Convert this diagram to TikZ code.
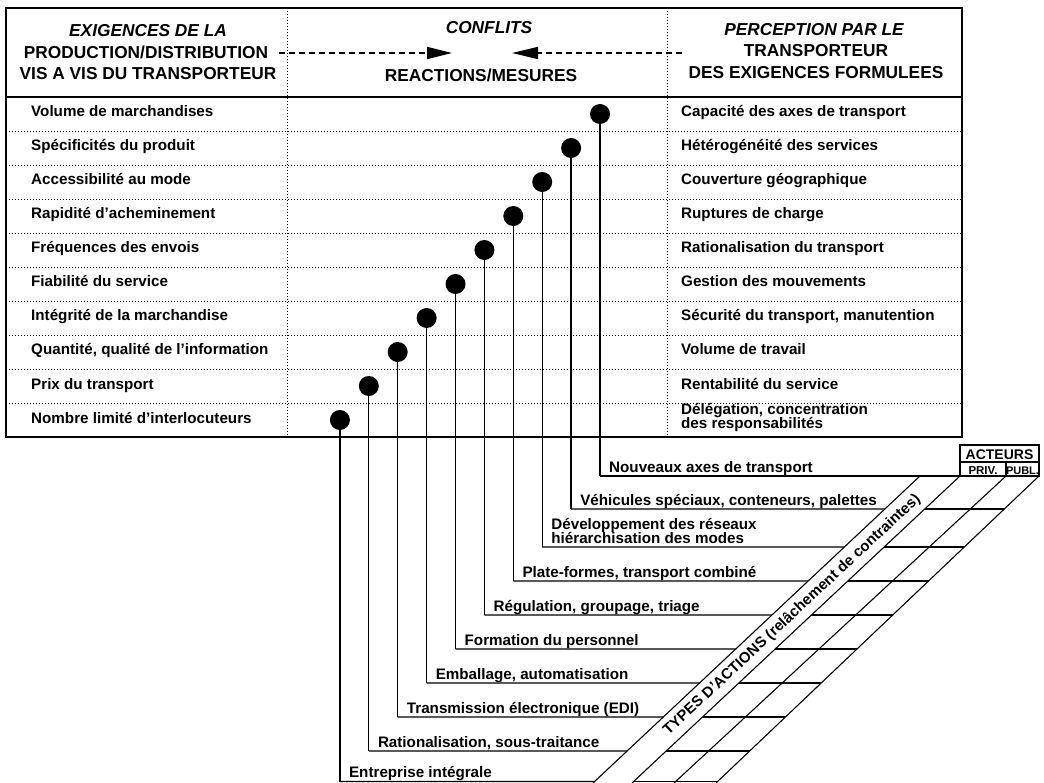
\documentclass[tikz,border=0pt]{standalone}
\usepackage{fontspec}
\setmainfont{Liberation Sans}
\usetikzlibrary{arrows.meta,calc}
\begin{document}
\begin{tikzpicture}[x=1pt,y=-1pt,
  cell/.style={anchor=base west,inner sep=0pt,font=\bfseries\fontsize{15.2}{15}\selectfont},
  hdrit/.style={anchor=base,inner sep=0pt,font=\bfseries\itshape\fontsize{17.3}{20}\selectfont},
  hdr/.style={anchor=base,inner sep=0pt,font=\bfseries\fontsize{17.3}{20}\selectfont},
  frame/.style={line width=2.4pt},
  sepline/.style={line width=0.9pt,dash pattern=on 0.9pt off 2.1pt},
  flow/.style={line width=1.6pt,dash pattern=on 6pt off 4pt},
  dot/.style={circle,fill=black,inner sep=0pt,minimum size=20pt},
  stem/.style={line width=1.3pt},
  rule/.style={line width=1.4pt},
  diag/.style={line width=1.1pt},
  band/.style={inner sep=0pt,rotate=43,font=\bfseries\fontsize{15}{15}\selectfont},
]
\useasboundingbox (0,0) rectangle (1044,783);

% ---------- table frame ----------
\draw[frame] (6,8) rectangle (962,437);
\draw[line width=2pt] (6,97) -- (962,97);
\foreach \x in {287,667} \draw[sepline] (\x,8) -- (\x,437);
\foreach \k in {1,...,9} \draw[sepline] (6,{97+34*\k}) -- (962,{97+34*\k});

% ---------- header ----------
\node[hdrit] (h1a) at (148,37) {EXIGENCES DE LA};
\node[hdr]   (h1b) at (146,59) {PRODUCTION/DISTRIBUTION};
\node[hdr]   (h1c) at (148,80) {VIS A VIS DU TRANSPORTEUR};
\node[hdrit] (h2a) at (489,34) {CONFLITS};
\node[hdr]   (h2b) at (481,82) {REACTIONS/MESURES};
\node[hdrit] (h3a) at (814,36) {PERCEPTION PAR LE};
\node[hdr]   (h3b) at (816,57) {TRANSPORTEUR};
\node[hdr]   (h3c) at (816,79) {DES EXIGENCES FORMULEES};

\coordinate (fa) at (279,53);
\coordinate (fb) at (452,53);
\coordinate (ga) at (682,53);
\coordinate (gb) at (512,53);
\draw[flow,-{Triangle[length=25pt,width=12pt]}] (fa) -- (fb);
\draw[flow,-{Triangle[length=26pt,width=12pt]}] (ga) -- (gb);

% ---------- table rows ----------
\foreach \k/\t in {1/{Volume de marchandises},2/{Spécificités du produit},
  3/{Accessibilité au mode},4/{Rapidité d'acheminement},5/{Fréquences des envois},
  6/{Fiabilité du service},7/{Intégrité de la marchandise},
  8/{Quantité, qualité de l'information},9/{Prix du transport},
  10/{Nombre limité d'interlocuteurs}}
  \node[cell] (e\k) at (31,{117+34*(\k-1)}) {\t};

\foreach \k/\t in {1/{Capacité des axes de transport},2/{Hétérogénéité des services},
  3/{Couverture géographique},4/{Ruptures de charge},5/{Rationalisation du transport},
  6/{Gestion des mouvements},7/{Sécurité du transport, manutention},
  8/{Volume de travail},9/{Rentabilité du service}}
  \node[cell] (p\k) at (681,{117+34*(\k-1)}) {\t};
\node[cell] (p10) at (681,414.5) {Délégation, concentration};
\node[cell] (p10b) at (681,428.5) {des responsabilités};

% ---------- actions band ----------
\coordinate (L1t) at (920,476);  \coordinate (L1b) at (593,783);
\coordinate (L2t) at (960,476);  \coordinate (L2b) at (632,783);
\coordinate (L3t) at (1006,476); \coordinate (L3b) at (674,783);
\coordinate (L4t) at (1039,476); \coordinate (L4b) at (716,783);
\foreach \i in {1,...,4} \draw[diag] (L\i t) -- (L\i b);

\node[band] (types) at (792,615) {TYPES D'ACTIONS (relâchement de contraintes)};

% actors box
\draw[rule] (960,445) rectangle (1039,476);
\draw[line width=1.1pt] (960,462) -- (1039,462);
\draw[line width=1.1pt] (1006,462) -- (1006,476);
\node[anchor=base,inner sep=0pt,font=\bfseries\fontsize{14}{14}\selectfont] (act) at (999.5,459.5) {ACTEURS};
\node[anchor=base,inner sep=0pt,font=\bfseries\fontsize{11.5}{12}\selectfont] (priv) at (983,474) {PRIV.};
\node[anchor=base,inner sep=0pt,font=\bfseries\fontsize{11}{12}\selectfont] (publ) at (1022.5,474) {PUBL.};

% ---------- stems from the dots to the actions ----------
\foreach \k/\ry in {1/476,2/509,3/547,4/581,5/615,6/649,7/683,8/717,9/751,10/781.5} {
  \node[dot] (d\k) at ({600-28.9*(\k-1)},{114+34*(\k-1)}) {};
  \coordinate (r\k) at ({600-28.9*(\k-1)},\ry);
  \draw[stem] (d\k.center) -- (r\k);
}
\draw[rule] (r1) -- (L2t);
\foreach \k/\ry in {2/509,3/547,4/581,5/615,6/649,7/683,8/717,9/751,10/781.5} {
  \draw[rule] (r\k) -- ($(L1t)!{(\ry-476)/307}!(L1b)$);
  \draw[rule] ($(L2t)!{(\ry-476)/307}!(L2b)$) -- ($(L4t)!{(\ry-476)/307}!(L4b)$);
}

% ---------- action labels ----------
\foreach \k/\ry/\t in {1/476/{Nouveaux axes de transport},
  2/509/{Véhicules spéciaux, conteneurs, palettes},
  4/581/{Plate-formes, transport combiné},5/615/{Régulation, groupage, triage},
  6/649/{Formation du personnel},7/683/{Emballage, automatisation},
  8/717/{Transmission électronique (EDI)},9/751/{Rationalisation, sous-traitance},
  10/781.5/{Entreprise intégrale}}
  \node[cell] (a\k) at ({609-28.9*(\k-1)},{\ry-4}) {\t};
\node[cell] (a3) at (551.2,529.5) {Développement des réseaux};
\node[cell] (a3b) at (551.2,543.5) {hiérarchisation des modes};
\end{tikzpicture}
\end{document}
